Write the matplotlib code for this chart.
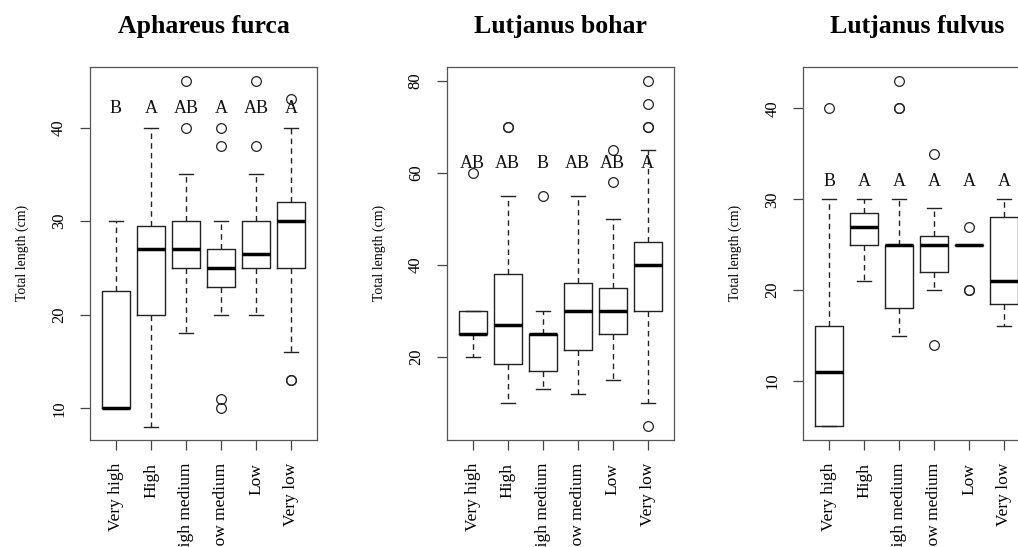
import numpy as np
import matplotlib.pyplot as plt

plt.rcParams['font.family'] = ['Liberation Serif', 'DejaVu Serif']

categories = ["Very high", "High", "High medium", "Low medium", "Low", "Very low"]

# Aphareus furca
af_q1 = [10, 20, 25, 23, 25, 25]
af_med = [10, 27, 27, 25, 26.5, 30]
af_q3 = [22.5, 29.5, 30, 27, 30, 32]
af_lo = [10, 8, 18, 20, 20, 16]
af_hi = [30, 40, 35, 30, 35, 40]
af_fliers = [[], [], [40, 45], [38, 40, 10, 11], [38, 45], [43, 13, 13]]
af_letters = ["B", "A", "AB", "A", "AB", "A"]

# Lutjanus bohar
lb_q1 = [25, 18.5, 17, 21.5, 25, 30]
lb_med = [25, 27, 25, 30, 30, 40]
lb_q3 = [30, 38, 25, 36, 35, 45]
lb_lo = [20, 10, 13, 12, 15, 10]
lb_hi = [30, 55, 30, 55, 50, 65]
lb_fliers = [[60], [70, 70], [55], [], [58, 65], [70, 70, 75, 80, 5]]
lb_letters = ["AB", "AB", "B", "AB", "AB", "A"]

# Lutjanus fulvus
lf_q1 = [5, 25, 18, 22, 25, 18.5]
lf_med = [11, 27, 25, 25, 25, 21]
lf_q3 = [16, 28.5, 25, 26, 25, 28]
lf_lo = [5, 21, 15, 20, 25, 16]
lf_hi = [30, 30, 30, 29, 25, 30]
lf_fliers = [[40], [], [40, 40, 43], [35, 14], [27, 20, 20], []]
lf_letters = ["B", "A", "A", "A", "A", "A"]

panels = [
    ("Aphareus furca", af_q1, af_med, af_q3, af_lo, af_hi, af_fliers, af_letters,
     (6.6, 46.5), [10, 20, 30, 40], 42),
    ("Lutjanus bohar", lb_q1, lb_med, lb_q3, lb_lo, lb_hi, lb_fliers, lb_letters,
     (2.0, 83.1), [20, 40, 60, 80], 62),
    ("Lutjanus fulvus", lf_q1, lf_med, lf_q3, lf_lo, lf_hi, lf_fliers, lf_letters,
     (3.5, 44.6), [10, 20, 30, 40], 32),
]

# axes boxes in pixels of the 1018x547 target
lefts = [90 / 1018, 446.7 / 1018, 803.3 / 1018]
W = 227 / 1018
B = 1 - 440 / 547
H = (440 - 66.7) / 547

fig = plt.figure(figsize=(10.18, 5.47), dpi=100)
lc = '#222222'

for left, (title, q1, med, q3, lo, hi, fl, letters, ylim, yt, ly) in zip(lefts, panels):
    ax = fig.add_axes([left, B, W, H])
    stats = []
    for i in range(len(categories)):
        stats.append(dict(q1=q1[i], med=med[i], q3=q3[i], whislo=lo[i],
                          whishi=hi[i], fliers=fl[i], label=categories[i]))
    ax.bxp(stats, positions=np.arange(1, 7), widths=0.8, capwidths=0.4,
           boxprops=dict(color=lc, linewidth=1.0),
           whiskerprops=dict(color=lc, linewidth=1.0, linestyle=(0, (4, 3))),
           capprops=dict(color=lc, linewidth=1.0),
           medianprops=dict(color='black', linewidth=2.5),
           flierprops=dict(marker='o', markersize=7, markerfacecolor='none',
                           markeredgecolor=lc, markeredgewidth=0.9))
    for i, t in enumerate(letters):
        ax.text(i + 1, ly, t, ha='center', va='center', fontsize=13, color='#111111')
    ax.set_xlim(0.26, 6.74)
    ax.set_ylim(*ylim)
    ax.set_yticks(yt)
    ax.set_yticklabels([str(v) for v in yt], rotation=90, va='center', fontsize=12)
    ax.set_xticks(np.arange(1, 7))
    ax.set_xticklabels(categories, rotation=90, fontsize=12.5)
    ax.tick_params(direction='out', length=7, width=0.9, color='#444444', pad=9.5)
    for s in ax.spines.values():
        s.set_color('#555555')
        s.set_linewidth(0.9)
    ax.set_ylabel('Total length (cm)', fontsize=10, labelpad=16)
    ax.set_title(title, fontsize=18.5, fontweight='bold', pad=24)

fig.savefig('out.png', dpi=100)
